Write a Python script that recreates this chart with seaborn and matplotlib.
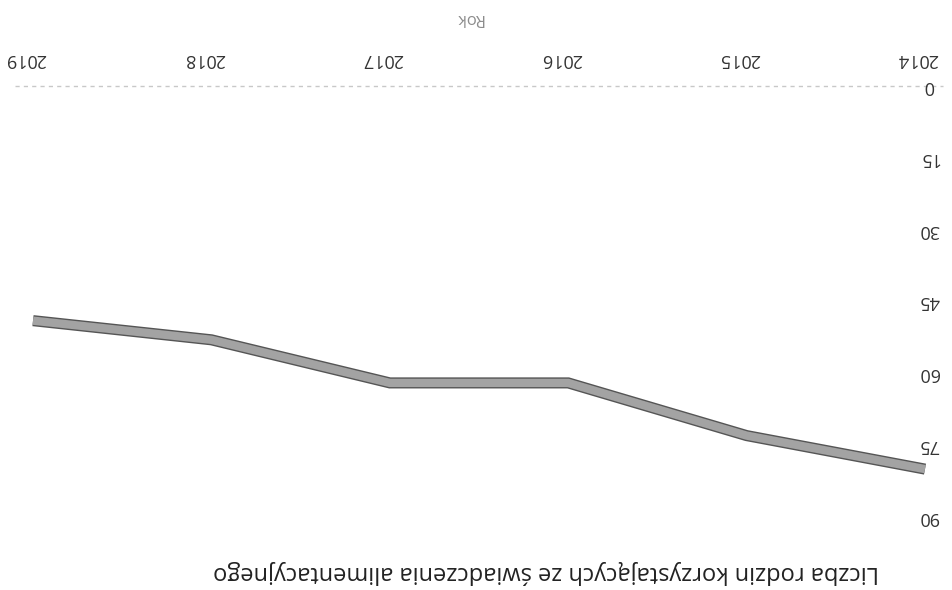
import seaborn as sns
import numpy as np
import pandas as pd
import matplotlib.pyplot as plt
import matplotlib.patheffects as pe
from matplotlib.transforms import ScaledTranslation

years = [2014, 2015, 2016, 2017, 2018, 2019]
families = [80, 73, 62, 62, 53, 49]
y_ticks = [0, 15, 30, 45, 60, 75, 90]
x_label = "Rok"
title = "Liczba rodzin korzystających ze świadczenia alimentacyjnego"

if __name__ == '__main__':
    sns.set_style('white')
    plt.rcParams['font.family'] = ['Open Sans', 'DejaVu Sans']

    df = pd.DataFrame({'Rok': years, 'Liczba': families})

    fig = plt.figure(figsize=(9.53, 5.9), dpi=100)
    ax = fig.add_axes([33 / 953, 73 / 590, 892 / 953, 431 / 590])

    sns.lineplot(data=df, x='Rok', y='Liczba', ax=ax, color='#a3a3a3',
                 linewidth=6, clip_on=False, solid_joinstyle='miter', solid_capstyle='butt',
                 path_effects=[pe.Stroke(linewidth=8, foreground='#555555',
                                         joinstyle='miter', capstyle='butt'),
                               pe.Normal()])

    # the scan is turned by 180 degrees, so both axes run backwards
    ax.set_xlim(2019, 2014)
    ax.set_ylim(90, 0)
    ax.axhline(0, xmin=-0.02, xmax=1.02, color='#c8c8c8', ls=(0, (3, 3)), lw=1,
               zorder=0, clip_on=False)

    for s in ax.spines.values():
        s.set_visible(False)

    ax.yaxis.tick_right()
    ax.set_xticks([])
    ax.set_yticks(y_ticks)
    ax.set_yticklabels([str(v) for v in y_ticks])
    ax.tick_params(axis='y', length=0, pad=3, labelsize=13, labelcolor='#333333')
    plt.setp(ax.get_yticklabels(), rotation=180, ha='center', va='center')

    # year labels sit a little left of their points in the scan
    shift = ScaledTranslation(-7 / 100, 27 / 100, fig.dpi_scale_trans)
    for y in years:
        ax.text(y, 1, str(y), transform=ax.get_xaxis_transform() + shift,
                rotation=180, ha='center', va='center', fontsize=13, color='#333333')

    ax.set_xlabel('')
    ax.set_ylabel('')
    fig.text(469 / 953, 1 - 18 / 590, x_label, rotation=180, ha='center', va='center',
             fontsize=12, color='#8c8c8c')
    fig.text(546 / 953, 1 - 572 / 590, title, rotation=180, ha='center', va='center',
             fontsize=17, color='#222222')

    plt.savefig('out.png', dpi=100)
